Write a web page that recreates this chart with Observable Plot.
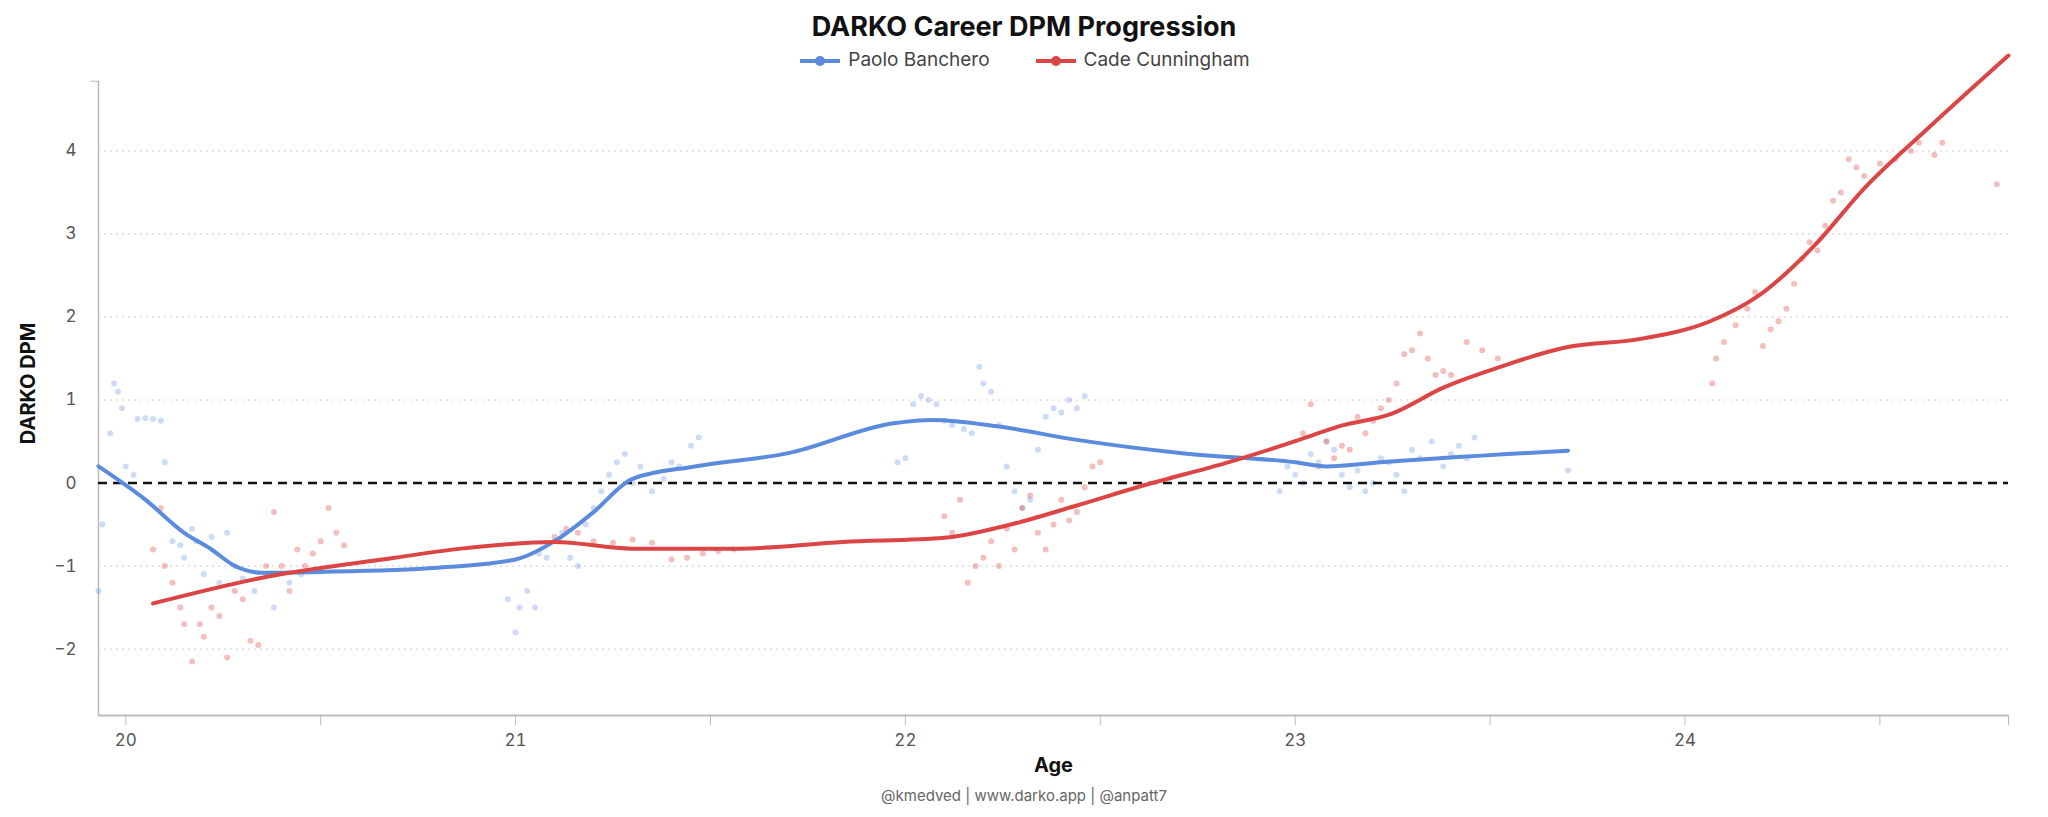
<!DOCTYPE html>
<html>
<head>
<meta charset="utf-8">
<script src="https://cdn.jsdelivr.net/npm/d3@7"></script>
<script src="https://cdn.jsdelivr.net/npm/@observablehq/plot@0.6"></script>
<style>
  body { margin: 0; background: #fff; font-family: Inter, "Noto Sans", sans-serif; }
  #wrap { position: relative; width: 2048px; height: 817px; }
  #title { position: absolute; top: 10px; width: 100%; text-align: center; font-size: 27px; font-weight: 700; color: #111; }
  #legend { position: absolute; top: 48px; width: 100%; text-align: center; font-size: 19px; color: #444; }
  #legend span.item { margin: 0 22px; }
  #legend svg { vertical-align: middle; margin-right: 6px; }
  #footer { position: absolute; top: 786px; width: 100%; text-align: center; font-size: 15px; color: #666; }
  #chart { position: absolute; top: 0; left: 0; }
</style>
</head>
<body>
<div id="wrap">
  <div id="chart"></div>
  <div id="title">DARKO Career DPM Progression</div>
  <div id="legend"></div>
  <div id="footer">@kmedved | www.darko.app | @anpatt7</div>
</div>
<script>
const players = ["Paolo Banchero", "Cade Cunningham"];
const colors = ["#5b8bdc", "#dc4545"];

// smoothed lines [age, dpm]
const bancheroLine = [[19.93,0.2],[20.05,-0.2],[20.15,-0.6],[20.22,-0.8],[20.28,-1.0],[20.35,-1.08],[20.5,-1.07],[20.8,-1.02],[21.0,-0.92],[21.1,-0.7],[21.16,-0.5],[21.2,-0.35],[21.3,0.05],[21.46,0.2],[21.7,0.36],[21.97,0.72],[22.07,0.76],[22.24,0.68],[22.44,0.52],[22.71,0.36],[23.0,0.25],[23.08,0.2],[23.22,0.25],[23.7,0.39]];
const cadeLine = [[20.07,-1.45],[20.35,-1.14],[20.69,-0.9],[20.86,-0.79],[21.1,-0.71],[21.3,-0.79],[21.57,-0.79],[21.84,-0.71],[22.1,-0.66],[22.27,-0.5],[22.44,-0.27],[22.61,-0.03],[22.85,0.28],[23.01,0.52],[23.11,0.68],[23.25,0.84],[23.38,1.15],[23.52,1.39],[23.69,1.63],[23.89,1.74],[24.06,1.94],[24.19,2.26],[24.33,2.85],[24.46,3.55],[24.63,4.3],[24.83,5.15]];

// per-game estimates [age, dpm]
const bancheroDots = [[19.93,-1.3],[19.94,-0.5],[19.96,0.6],[19.97,1.2],[19.98,1.1],[19.99,0.9],[20.0,0.2],[20.02,0.1],[20.03,0.77],[20.05,0.78],[20.07,0.77],[20.09,0.75],[20.1,0.25],[20.12,-0.7],[20.14,-0.75],[20.15,-0.9],[20.17,-0.55],[20.18,-0.7],[20.2,-1.1],[20.22,-0.65],[20.24,-1.2],[20.26,-0.6],[20.28,-1.0],[20.3,-1.15],[20.33,-1.3],[20.36,-1.1],[20.38,-1.5],[20.42,-1.2],[20.45,-1.1],
  [20.98,-1.4],[21.0,-1.8],[21.01,-1.5],[21.03,-1.3],[21.05,-1.5],[21.06,-0.85],[21.08,-0.9],[21.1,-0.7],[21.12,-0.6],[21.14,-0.9],[21.16,-1.0],[21.18,-0.5],[21.2,-0.3],[21.22,-0.1],[21.24,0.1],[21.26,0.25],[21.28,0.35],[21.3,0.0],[21.32,0.2],[21.35,-0.1],[21.38,0.05],[21.4,0.25],[21.42,0.2],[21.45,0.45],[21.47,0.55],
  [21.98,0.25],[22.0,0.3],[22.02,0.95],[22.04,1.05],[22.06,1.0],[22.08,0.95],[22.1,0.75],[22.12,0.7],[22.15,0.65],[22.17,0.6],[22.19,1.4],[22.2,1.2],[22.22,1.1],[22.24,0.7],[22.26,0.2],[22.28,-0.1],[22.3,-0.3],[22.32,-0.2],[22.34,0.4],[22.36,0.8],[22.38,0.9],[22.4,0.85],[22.42,1.0],[22.44,0.9],[22.46,1.05],
  [22.96,-0.1],[22.98,0.2],[23.0,0.1],[23.02,0.0],[23.04,0.35],[23.06,0.25],[23.08,0.5],[23.1,0.4],[23.12,0.1],[23.14,-0.05],[23.16,0.15],[23.18,-0.1],[23.2,0.0],[23.22,0.3],[23.24,0.25],[23.26,0.1],[23.28,-0.1],[23.3,0.4],[23.32,0.3],[23.35,0.5],[23.38,0.2],[23.4,0.35],[23.42,0.45],[23.44,0.3],[23.46,0.55],[23.7,0.15]];
const cadeDots = [[20.07,-0.8],[20.09,-0.3],[20.1,-1.0],[20.12,-1.2],[20.14,-1.5],[20.15,-1.7],[20.17,-2.15],[20.19,-1.7],[20.2,-1.85],[20.22,-1.5],[20.24,-1.6],[20.26,-2.1],[20.28,-1.3],[20.3,-1.4],[20.32,-1.9],[20.34,-1.95],[20.36,-1.0],[20.38,-0.35],[20.4,-1.0],[20.42,-1.3],[20.44,-0.8],[20.46,-1.0],[20.48,-0.85],[20.5,-0.7],[20.52,-0.3],[20.54,-0.6],[20.56,-0.75],
  [21.1,-0.65],[21.13,-0.55],[21.16,-0.6],[21.2,-0.7],[21.25,-0.72],[21.3,-0.68],[21.35,-0.72],[21.4,-0.92],[21.44,-0.9],[21.48,-0.85],[21.52,-0.82],[21.56,-0.8],
  [22.1,-0.4],[22.12,-0.6],[22.14,-0.2],[22.16,-1.2],[22.18,-1.0],[22.2,-0.9],[22.22,-0.7],[22.24,-1.0],[22.26,-0.55],[22.28,-0.8],[22.3,-0.3],[22.32,-0.15],[22.34,-0.6],[22.36,-0.8],[22.38,-0.5],[22.4,-0.2],[22.42,-0.45],[22.44,-0.35],[22.46,-0.05],[22.48,0.2],[22.5,0.25],
  [23.02,0.6],[23.04,0.95],[23.06,0.2],[23.08,0.5],[23.1,0.3],[23.12,0.45],[23.14,0.4],[23.16,0.8],[23.18,0.6],[23.2,0.75],[23.22,0.9],[23.24,1.0],[23.26,1.2],[23.28,1.55],[23.3,1.6],[23.32,1.8],[23.34,1.5],[23.36,1.3],[23.38,1.35],[23.4,1.3],[23.44,1.7],[23.48,1.6],[23.52,1.5],
  [24.07,1.2],[24.08,1.5],[24.1,1.7],[24.13,1.9],[24.16,2.1],[24.18,2.3],[24.2,1.65],[24.22,1.85],[24.24,1.95],[24.26,2.1],[24.28,2.4],[24.3,2.7],[24.32,2.9],[24.34,2.8],[24.36,3.1],[24.38,3.4],[24.4,3.5],[24.42,3.9],[24.44,3.8],[24.46,3.7],[24.5,3.85],[24.54,3.9],[24.58,4.0],[24.6,4.1],[24.64,3.95],[24.66,4.1],[24.8,3.6]];

const gridY = [-2, -1, 1, 2, 3, 4];
const xTicks = d3.range(20, 25, 0.5);
const xMin = 19.93, xMax = 24.83, yMin = -2.8, yTop = 4.84;

const dotsB = bancheroDots.map(([a, v]) => ({a, v}));
const dotsC = cadeDots.map(([a, v]) => ({a, v}));
const lineB = bancheroLine.map(([a, v]) => ({a, v}));
const lineC = cadeLine.map(([a, v]) => ({a, v}));

const plot = Plot.plot({
  width: 2048,
  height: 790,
  marginTop: 55,
  marginBottom: 75,
  marginLeft: 98,
  marginRight: 40,
  style: {fontFamily: "Inter, 'Noto Sans', sans-serif", fontSize: "16px", color: "#666"},
  x: {domain: [xMin, xMax]},
  y: {domain: [yMin, 5.15]},
  marks: [
    Plot.ruleY(gridY, {x1: xMin, x2: xMax, stroke: "#ccc", strokeDasharray: "2,4", strokeWidth: 1}),
    Plot.ruleX([xMin], {y1: yMin, y2: yTop, stroke: "#bbb", strokeWidth: 1.5}),
    Plot.ruleY([yMin], {stroke: "#bbb", strokeWidth: 2}),
    Plot.ruleX([xMax], {y1: yMin, y2: yMin - 0.12, stroke: "#bbb"}),
    Plot.ruleY([yTop], {x1: xMin - 0.02, x2: xMin, stroke: "#bbb"}),
    Plot.axisX(xTicks, {tickSize: 10, tickPadding: 8, stroke: "#bbb", fill: "#555", fontSize: 17,
      tickFormat: d => Number.isInteger(d) ? d : "", label: null}),
    Plot.axisY([-2, -1, 0, 1, 2, 3, 4], {tickSize: 0, tickPadding: 22, fill: "#555", fontSize: 17,
      tickFormat: d => d < 0 ? "\u2212" + Math.abs(d) : d, label: null}),
    Plot.text(["Age"], {frameAnchor: "bottom", dy: 56, fontSize: 20, fontWeight: 700, fill: "#111"}),
    Plot.text(["DARKO DPM"], {x: xMin, y: 1.2, dx: -70, rotate: -90, fontSize: 20, fontWeight: 700, fill: "#111"}),
    Plot.dot(dotsB, {x: "a", y: "v", r: 3, fill: colors[0], fillOpacity: 0.3}),
    Plot.dot(dotsC, {x: "a", y: "v", r: 3, fill: colors[1], fillOpacity: 0.35}),
    Plot.ruleY([0], {x1: xMin, x2: xMax, stroke: "#111", strokeWidth: 2.5, strokeDasharray: "9,6"}),
    Plot.line(lineB, {x: "a", y: "v", stroke: colors[0], strokeWidth: 4, curve: "monotone-x"}),
    Plot.line(lineC, {x: "a", y: "v", stroke: colors[1], strokeWidth: 4, curve: "monotone-x"})
  ]
});
document.querySelector("#chart").append(plot);

document.querySelector("#legend").innerHTML = players.map((p, i) =>
  `<span class="item"><svg width="44" height="12"><line x1="2" y1="6" x2="42" y2="6" stroke="${colors[i]}" stroke-width="4"/><circle cx="22" cy="6" r="5" fill="${colors[i]}"/></svg>${p}</span>`
).join("");
</script>
</body>
</html>
